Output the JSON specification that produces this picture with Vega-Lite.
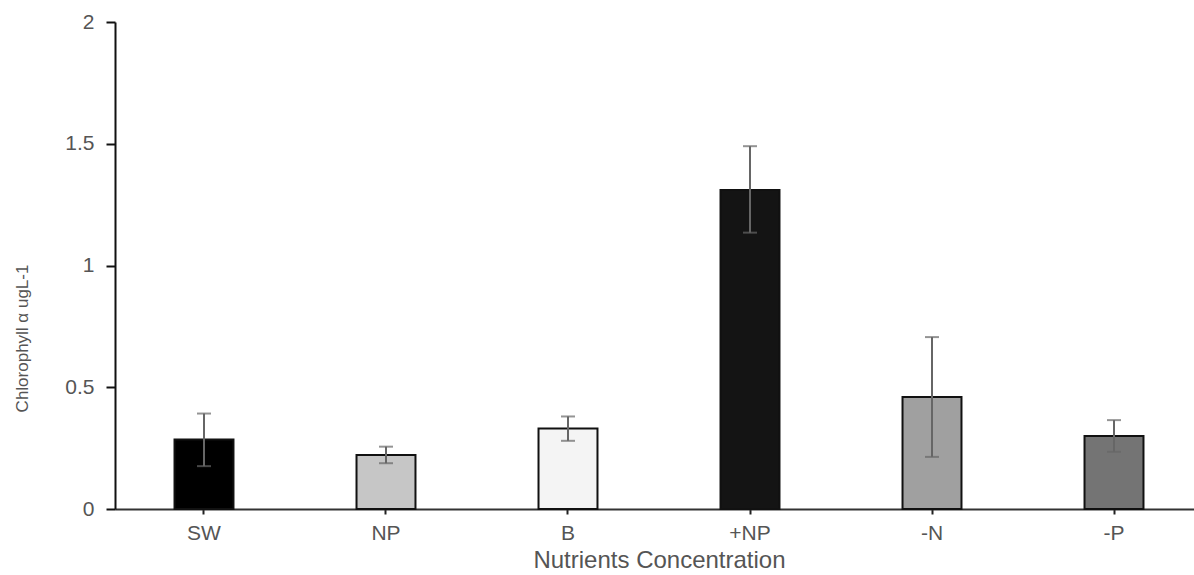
{
  "$schema": "https://vega.github.io/schema/vega-lite/v6.json",
  "autosize": {"type": "none"},
  "width": 1079,
  "height": 487,
  "padding": {"left": 115, "top": 22, "right": 0, "bottom": 66},
  "background": "white",
  "config": {
    "view": {"stroke": null},
    "font": "Liberation Sans"
  },
  "data": {
    "values": [
      {"treatment": "SW", "chl": 0.285, "lower": 0.176, "upper": 0.392},
      {"treatment": "NP", "chl": 0.222, "lower": 0.188, "upper": 0.256},
      {"treatment": "B", "chl": 0.331, "lower": 0.28, "upper": 0.38},
      {"treatment": "+NP", "chl": 1.31, "lower": 1.135, "upper": 1.49},
      {"treatment": "-N", "chl": 0.46, "lower": 0.214, "upper": 0.706},
      {"treatment": "-P", "chl": 0.3, "lower": 0.235, "upper": 0.365}
    ]
  },
  "encoding": {
    "x": {
      "field": "treatment",
      "type": "nominal",
      "sort": null,
      "scale": {"range": [0, 1088], "paddingInner": 0.676, "paddingOuter": 0.327},
      "axis": {
        "title": "Nutrients Concentration",
        "labelAngle": 0,
        "labelFont": "Liberation Sans",
        "labelFontSize": 21,
        "labelColor": "#555555",
        "labelPadding": 8,
        "tickSize": 5,
        "tickColor": "#222222",
        "tickWidth": 2,
        "domainColor": "#333333",
        "domainWidth": 2,
        "titleFont": "Liberation Sans",
        "titleFontSize": 24,
        "titleFontWeight": "normal",
        "titleColor": "#555555",
        "titlePadding": 5
      }
    }
  },
  "layer": [
    {
      "mark": {"type": "bar", "stroke": "#111111", "strokeWidth": 2},
      "encoding": {
        "y": {
          "field": "chl",
          "type": "quantitative",
          "scale": {"domain": [0, 2], "nice": false},
          "axis": {
            "title": "Chlorophyll α ugL-1",
            "values": [0, 0.5, 1, 1.5, 2],
            "format": "~g",
            "grid": false,
            "labelFont": "Liberation Sans",
            "labelFontSize": 21,
            "labelColor": "#555555",
            "labelPadding": 12,
            "tickSize": 9,
            "tickColor": "#111111",
            "tickWidth": 2,
            "domainColor": "#111111",
            "domainWidth": 2,
            "titleFont": "Liberation Sans",
            "titleFontSize": 17,
            "titleFontWeight": "normal",
            "titleColor": "#555555",
            "titleAngle": -90,
            "titleAlign": "center",
            "titleBaseline": "middle",
            "titleX": -93,
            "titleY": 316
          }
        },
        "color": {
          "field": "treatment",
          "type": "nominal",
          "scale": {
            "domain": ["SW", "NP", "B", "+NP", "-N", "-P"],
            "range": ["#000000", "#c6c6c6", "#f4f4f4", "#141414", "#a0a0a0", "#747474"]
          },
          "legend": null
        }
      }
    },
    {
      "mark": {"type": "rule", "color": "#666666", "strokeWidth": 2},
      "encoding": {
        "y": {"field": "lower", "type": "quantitative"},
        "y2": {"field": "upper"}
      }
    },
    {
      "mark": {"type": "tick", "color": "#666666", "thickness": 2, "size": 14},
      "encoding": {
        "y": {"field": "upper", "type": "quantitative"}
      }
    },
    {
      "mark": {"type": "tick", "color": "#666666", "thickness": 2, "size": 14},
      "encoding": {
        "y": {"field": "lower", "type": "quantitative"}
      }
    }
  ]
}
